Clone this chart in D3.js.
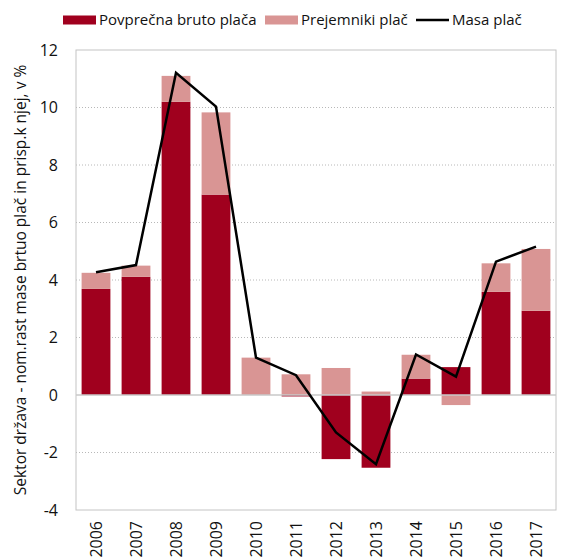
<!DOCTYPE html>
<html>
<head>
<meta charset="utf-8">
<script src="https://cdn.jsdelivr.net/npm/d3@7"></script>
<style>
  body { margin: 0; background: #fff; }
  svg text { font-family: "Open Sans", sans-serif; fill: #111; }
</style>
</head>
<body>
<div id="chart"></div>
<script>
const years = ["2006", "2007", "2008", "2009", "2010", "2011", "2012", "2013", "2014", "2015", "2016", "2017"];
const avgWage = [3.69, 4.11, 10.2, 6.97, 0, -0.05, -2.23, -2.53, 0.57, 0.97, 3.59, 2.93];
const recipients = [0.56, 0.39, 0.9, 2.86, 1.30, 0.72, 0.94, 0.12, 0.83, -0.35, 0.99, 2.15];
const wageMass = [4.27, 4.52, 11.21, 10.03, 1.30, 0.69, -1.30, -2.41, 1.41, 0.64, 4.64, 5.16];
const yTicks = [-4, -2, 0, 2, 4, 6, 8, 10, 12];

const width = 562, height = 557;
const margin = { top: 50, right: 6, bottom: 47, left: 76 };
const darkRed = "#a0001e", lightRed = "#d99594";

const svg = d3.select("#chart").append("svg")
  .attr("width", width)
  .attr("height", height);

const x = d3.scaleBand()
  .domain(years)
  .range([margin.left, width - margin.right])
  .paddingInner(0.28)
  .paddingOuter(0.14);

const y = d3.scaleLinear()
  .domain([-4, 12])
  .range([height - margin.bottom, margin.top]);

// grid lines
svg.append("g")
  .selectAll("line")
  .data(yTicks.filter(d => d !== 0 && d !== -4 && d !== 12))
  .join("line")
  .attr("x1", margin.left).attr("x2", width - margin.right)
  .attr("y1", d => y(d)).attr("y2", d => y(d))
  .attr("stroke", "#b8b8b8")
  .attr("stroke-dasharray", "1,2");

// frame
svg.append("rect")
  .attr("x", margin.left).attr("y", margin.top)
  .attr("width", width - margin.right - margin.left)
  .attr("height", height - margin.bottom - margin.top)
  .attr("fill", "none")
  .attr("stroke", "#c4c4c4");

// stacked bars
const rows = years.map((yr, i) => ({ year: yr, avg: avgWage[i], rec: recipients[i] }));
const series = d3.stack()
  .keys(["avg", "rec"])
  .offset(d3.stackOffsetDiverging)(rows);
const colour = d3.scaleOrdinal().domain(["avg", "rec"]).range([darkRed, lightRed]);

svg.append("g")
  .selectAll("g")
  .data(series)
  .join("g")
  .attr("fill", d => colour(d.key))
  .selectAll("rect")
  .data(d => d)
  .join("rect")
  .attr("x", d => x(d.data.year))
  .attr("width", x.bandwidth())
  .attr("y", d => y(Math.max(d[0], d[1])))
  .attr("height", d => Math.abs(y(d[0]) - y(d[1])));

// zero line
svg.append("line")
  .attr("x1", margin.left).attr("x2", width - margin.right)
  .attr("y1", y(0)).attr("y2", y(0))
  .attr("stroke", "#c8c8c8")
  .attr("stroke-width", 1.5);

// wage mass line
const line = d3.line()
  .x((d, i) => x(years[i]) + x.bandwidth() / 2)
  .y(d => y(d));

svg.append("path")
  .datum(wageMass)
  .attr("d", line)
  .attr("fill", "none")
  .attr("stroke", "#000")
  .attr("stroke-width", 2.5)
  .attr("stroke-linejoin", "miter");

// y axis labels
const yAxis = svg.append("g")
  .attr("transform", `translate(${margin.left},0)`)
  .call(d3.axisLeft(y).tickValues(yTicks).tickFormat(d => String(d)).tickSize(0).tickPadding(18));
yAxis.select(".domain").remove();
yAxis.selectAll("text")
  .style("font-family", "'Open Sans', sans-serif")
  .style("font-size", "16px")
  .attr("fill", "#111");

// x axis labels
const xAxis = svg.append("g")
  .attr("transform", `translate(0,${height - margin.bottom})`)
  .call(d3.axisBottom(x).tickSize(0).tickPadding(0));
xAxis.select(".domain").remove();
xAxis.selectAll("text")
  .style("font-family", "'Open Sans', sans-serif")
  .style("font-size", "16px")
  .attr("fill", "#111")
  .attr("transform", "rotate(-90)")
  .attr("text-anchor", "end")
  .attr("x", -11)
  .attr("y", 0)
  .attr("dy", "0.35em");

// y title
svg.append("text")
  .attr("transform", `translate(21,${(margin.top + height - margin.bottom) / 2}) rotate(-90)`)
  .attr("text-anchor", "middle")
  .attr("dy", "0.35em")
  .style("font-size", "15.5px")
  .text("Sektor država - nom.rast mase brtuo plač in prisp.k njej, v %");

// legend
const legend = svg.append("g");
const items = [
  { label: "Povprečna bruto plača", type: "rect", color: darkRed, x: 63 },
  { label: "Prejemniki plač", type: "rect", color: lightRed, x: 265 },
  { label: "Masa plač", type: "line", color: "#000", x: 416 }
];
items.forEach(it => {
  const g = legend.append("g").attr("transform", `translate(${it.x},20)`);
  if (it.type === "rect") {
    g.append("rect").attr("x", 0).attr("y", -4.5).attr("width", 33).attr("height", 9).attr("fill", it.color);
  } else {
    g.append("line").attr("x1", 0).attr("x2", 33).attr("y1", 0).attr("y2", 0)
      .attr("stroke", it.color).attr("stroke-width", 2.5);
  }
  g.append("text").attr("x", 36).attr("dy", "0.35em").style("font-size", "15px").text(it.label);
});
</script>
</body>
</html>
